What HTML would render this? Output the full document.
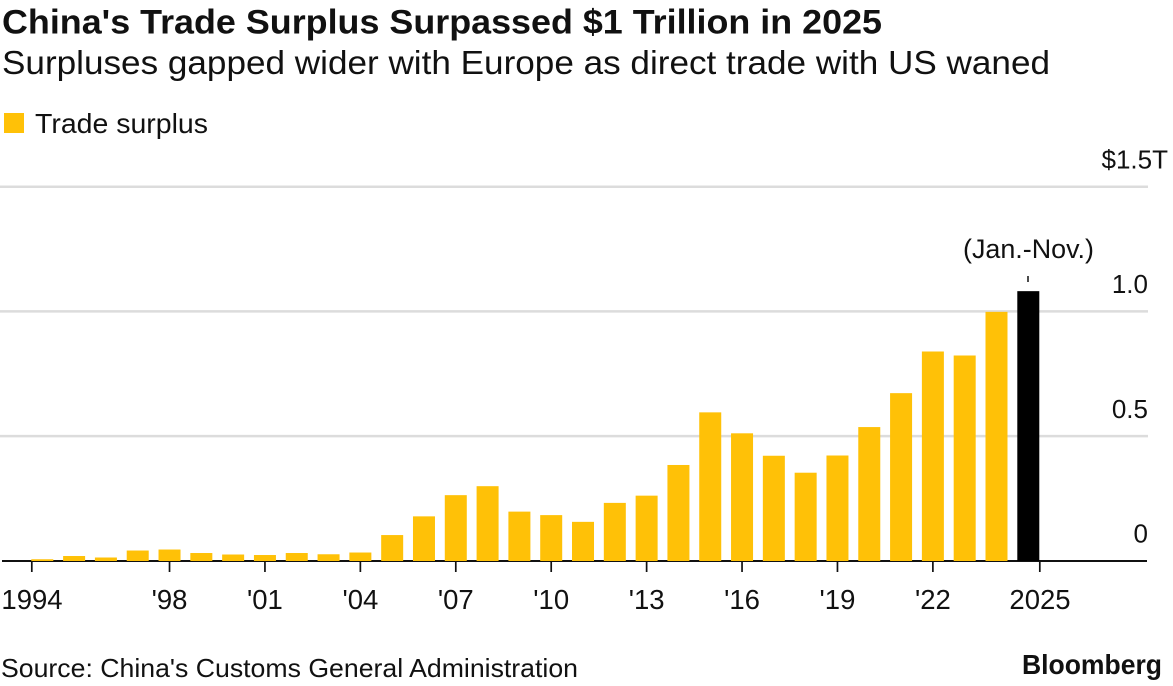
<!DOCTYPE html>
<html lang="en">
<head>
<meta charset="utf-8">
<title>China's Trade Surplus Surpassed $1 Trillion in 2025</title>
<style>
html,body{margin:0;padding:0;background:#fff;}
svg{display:block;}
text{font-family:"Liberation Sans",Arial,sans-serif;fill:#111;}
</style>
</head>
<body>
<svg id="chart" width="1173" height="686" viewBox="0 0 1173 686" xmlns="http://www.w3.org/2000/svg">
  <rect width="1173" height="686" fill="#fff"/>
  <text x="2" y="33.5" font-size="34" font-weight="700" fill="#000" textLength="880" lengthAdjust="spacingAndGlyphs">China's Trade Surplus Surpassed $1 Trillion in 2025</text>
  <text x="2" y="74" font-size="33" textLength="1048" lengthAdjust="spacingAndGlyphs">Surpluses gapped wider with Europe as direct trade with US waned</text>
  <rect x="4" y="113" width="20" height="20" fill="#ffc107"/>
  <text x="35" y="133" font-size="27.5" textLength="173" lengthAdjust="spacingAndGlyphs">Trade surplus</text>
  <g id="grid"></g>
  <g id="axis"></g>
  <g id="bars"></g>
  <g id="yLabels"></g>
  <g>
    <text x="1028.5" y="258" font-size="27" text-anchor="middle" textLength="131" lengthAdjust="spacingAndGlyphs">(Jan.-Nov.)</text>
    <line x1="1028" x2="1028" y1="276" y2="282" stroke="#111" stroke-width="1.5"/>
  </g>
  <text x="1" y="677" font-size="26" textLength="577" lengthAdjust="spacingAndGlyphs">Source: China's Customs General Administration</text>
  <text x="1022" y="674" font-size="27.5" font-weight="700" fill="#000" textLength="140" lengthAdjust="spacingAndGlyphs">Bloomberg</text>
</svg>
<script>
const years = [1994,1995,1996,1997,1998,1999,2000,2001,2002,2003,2004,2005,2006,2007,2008,2009,2010,2011,2012,2013,2014,2015,2016,2017,2018,2019,2020,2021,2022,2023,2024,2025];
const surplus = [0.005,0.018,0.012,0.040,0.044,0.030,0.024,0.022,0.030,0.025,0.032,0.102,0.177,0.262,0.298,0.196,0.182,0.155,0.231,0.260,0.383,0.594,0.510,0.420,0.352,0.421,0.535,0.671,0.838,0.822,0.997,1.080];
const highlightYear = 2025;
const xTickYears = [1994,1998,2001,2004,2007,2010,2013,2016,2019,2022,2025];
const xTickLabels = ['1994',"'98","'01","'04","'07","'10","'13","'16","'19","'22",'2025'];
const yTicks = [0,0.5,1.0,1.5];
const yTickLabels = ['0','0.5','1.0','$1.5T'];

const NS = 'http://www.w3.org/2000/svg';
const barWidth = 22;
const firstBarLeft = 31.3;
const lastBarLeft = 1017.3;
function xLeft(year){
  return firstBarLeft + (year - years[0]) * (lastBarLeft - firstBarLeft) / (years[years.length - 1] - years[0]);
}
function y(v){
  return 560.5 - v * 249.4;
}
function tickX(year){
  if (year === years[0]) return xLeft(year) + 0.5;
  if (year === years[years.length - 1]) return xLeft(year) + barWidth + 0.5;
  return xLeft(year) + barWidth / 2;
}
function make(tag, attrs){
  const el = document.createElementNS(NS, tag);
  for (const k in attrs) el.setAttribute(k, attrs[k]);
  return el;
}

const gridG = document.getElementById('grid');
yTicks.forEach(function(t){
  if (t === 0) return;
  const ln = make('line', {x1: 0, x2: 1148, y1: y(t) + 0.3, y2: y(t) + 0.3, stroke: '#dcdcdc', 'stroke-width': 2.5});
  
  
  gridG.appendChild(ln);
});

const axisG = document.getElementById('axis');
const axisLine = make('line', {x1: 2, x2: 1147, y1: 561, y2: 561, stroke: '#111', 'stroke-width': 2});


axisG.appendChild(axisLine);

const barsG = document.getElementById('bars');
years.forEach(function(yr, i){
  const top = y(surplus[i]);
  const r = make('rect', {x: xLeft(yr), y: top, width: barWidth, height: 561 - top, fill: yr === highlightYear ? '#000' : '#ffc107'});
  
  
  barsG.appendChild(r);
});

xTickYears.forEach(function(yr, i){
  const px = tickX(yr);
  const tick = make('line', {x1: px, x2: px, y1: 561, y2: 572, stroke: '#111', 'stroke-width': 1.7});
  
  
  axisG.appendChild(tick);
  const cx = i === 0 ? 32 : (i === xTickYears.length - 1 ? 1040 : px);
  const label = make('text', {x: cx, y: 609, 'font-size': 27.5, 'text-anchor': 'middle'});
  label.textContent = xTickLabels[i];
  
  
  axisG.appendChild(label);
});

const yG = document.getElementById('yLabels');
yTicks.forEach(function(t, i){
  const anchorX = t === 1.5 ? 1168 : 1148;
  const label = make('text', {x: anchorX, y: y(t) - 18, 'font-size': 26, 'text-anchor': 'end'});
  label.textContent = yTickLabels[i];
  
  
  yG.appendChild(label);
});
</script>
</body>
</html>
